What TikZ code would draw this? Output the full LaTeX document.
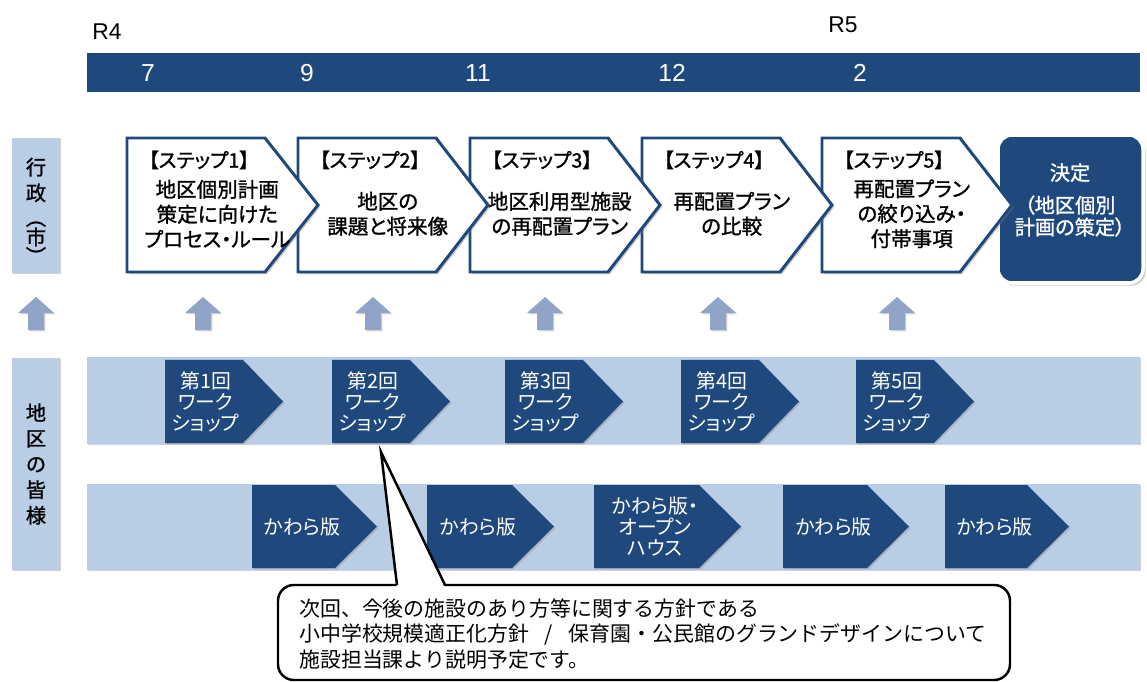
\documentclass[tikz,border=0pt]{standalone}
\usepackage{fontspec}
\newfontfamily\jp[RawFeature=+palt]{Noto Sans CJK JP}
\newfontfamily\jpb[RawFeature=+palt, FakeBold=1.2]{Noto Sans CJK JP}
\newfontfamily\jpm{Noto Sans CJK JP}
\newfontfamily\lat{Liberation Sans}
\usetikzlibrary{shadows}

\definecolor{navy}{RGB}{31,73,125}
\definecolor{paleblue}{RGB}{185,205,229}
\definecolor{arrowgray}{RGB}{143,164,199}

\tikzset{
  softshadow/.style={drop shadow={shadow xshift=.8pt, shadow yshift=-.8pt, opacity=.35}},
  band/.style={fill=paleblue, softshadow},
  sidetxt/.style={font=\jpb\fontsize{11.5}{14.6}\selectfont, align=center, inner sep=0},
  uparrow/.style={fill=arrowgray, softshadow},
  stepbox/.style={fill=white, draw=navy, line width=1.7pt, line join=miter,
    drop shadow={shadow xshift=1.2pt, shadow yshift=-1.2pt, opacity=.4}},
  stepboxtxt/.style={font=\jpb\fontsize{11.7}{14.2}\selectfont, align=center, inner sep=0,
    xshift=-3pt, yshift=-5pt},
  hdrtxt/.style={font=\jpb\fontsize{11.3}{13}\selectfont, inner sep=0},
  wsbox/.style={fill=navy, softshadow},
  wsboxtxt/.style={font=\jp\fontsize{11.3}{11.9}\selectfont, text=white, align=center,
    inner sep=0, xshift=-10.5pt},
  kwbox/.style={fill=navy, softshadow},
  kwboxtxt/.style={font=\jp\fontsize{11.3}{11.9}\selectfont, text=white, align=center,
    inner sep=0, xshift=-7pt},
  decide/.style={fill=navy, draw=white, line width=2pt, rounded corners=8pt,
    drop shadow={shadow xshift=1.5pt, shadow yshift=-1.5pt, opacity=.4}},
  decidetxt/.style={text=white, align=center, inner sep=0,
    font=\jpb\fontsize{11.5}{11.5}\selectfont},
  callout/.style={draw=black, line width=1.4pt, fill=white},
  notetxt/.style={font=\jpm\fontsize{11.9}{14.7}\selectfont, align=left, inner sep=0},
  yeartxt/.style={font=\lat\fontsize{13}{15}\selectfont, inner sep=0},
  monthtxt/.style={font=\lat\fontsize{14}{16}\selectfont, text=white, inner sep=0}
}

% arrow shaped box: style, name, left, top, corner, bottom, tip, text
\newcommand{\chev}[8]{%
  \path[#1] (#3,#4) -- (#5,#4) -- (#7,{(#4+#6)/2}) -- (#5,#6) -- (#3,#6) -- cycle;
  \node[#1txt] (#2) at ({(#3+#7)/2},{(#4+#6)/2}) {#8};}

\begin{document}
\begin{tikzpicture}[x=0.02cm, y=-0.02cm, font=\jp]
\useasboundingbox (0,0) rectangle (1147,682);

% time line
\fill[navy] (87,53) rectangle (1140,92);
\node[yeartxt] (r4) at (107,32) {R4};
\node[yeartxt] (r5) at (843,25) {R5};
\foreach \m/\x in {7/148, 9/307, 11/478, 12/672, 2/860}
  \node[monthtxt] (m\m) at (\x,73) {\m};

% side labels
\path[band] (12,138) rectangle (60,273);
\node[sidetxt] (gov) at (36,180) {行\\政};
\node[sidetxt, rotate=-90] (lpar) at (36,222) {（};
\node[sidetxt] (city) at (36,237) {市};
\node[sidetxt, rotate=-90] (rpar) at (36,252) {）};
\path[band] (12,358) rectangle (60,570);
\node[sidetxt] (ppl) at (36,464) {地\\区\\の\\皆\\様};

% up arrows
\foreach \x in {36,203,373,545,718,897}
  \path[uparrow] ({\x-8},330) -- ({\x-8},313) -- ({\x-18},313) -- (\x,297)
    -- ({\x+18},313) -- ({\x+8},313) -- ({\x+8},330) -- cycle;

% steps, right to left so each tip lies on top
\path[decide] (998,135) rectangle (1143,283);
\node[decidetxt] (fin) at (1070,200) {決定\\[7pt]（地区個別\\[1pt]計画の策定）};
\chev{stepbox}{st5}{822}{138}{960}{272}{1012}{再配置プラン\\の絞り込み・\\付帯事項}
\chev{stepbox}{st4}{642}{138}{780}{272}{832}{再配置プラン\\の比較}
\chev{stepbox}{st3}{470}{138}{608}{272}{660}{地区利用型施設\\の再配置プラン}
\chev{stepbox}{st2}{298}{138}{436}{272}{488}{地区の\\課題と将来像}
\chev{stepbox}{st1}{127}{138}{265}{272}{318}{地区個別計画\\策定に向けた\\プロセス・ルール}
\foreach \n/\x in {1/127, 2/298, 3/470, 4/642, 5/822}
  \node[hdrtxt] (hd\n) at ({\x+72},160) {【ステップ\n】};

% bands
\path[band] (87,357) rectangle (1140,444);
\path[band] (87,484) rectangle (1140,570);

% workshops
\foreach \i/\l in {1/165, 2/332, 3/505, 4/681, 5/856}{
  \chev{wsbox}{ws\i}{\l}{360}{\l+78}{443}{\l+118}{第\i 回\\ワーク\\ショップ}
}

% news letters
\chev{kwbox}{kw1}{252}{485}{335}{568}{377}{かわら版}
\chev{kwbox}{kw2}{427}{485}{512}{568}{554}{かわら版}
\chev{kwbox}{kw3}{594}{485}{699}{568}{741}{かわら版・\\オープン\\ハウス}
\chev{kwbox}{kw4}{783}{485}{867}{568}{909}{かわら版}
\chev{kwbox}{kw5}{945}{485}{1027}{568}{1069}{かわら版}

% note
\coordinate (tip) at (381,452);
\path[callout, rounded corners=9pt] (278,585) rectangle (1010,680);
\fill[white] (397,588) -- (tip) -- (445,588) -- cycle;
\draw[line width=1.4pt] (397,585) -- (tip) -- (445,585);
\node[notetxt, anchor=west] (note) at (299,634)
  {次回、今後の施設のあり方等に関する方針である\\
   小中学校規模適正化方針\hspace{0.75em}/\hspace{0.75em}保育園・公民館のグランドデザインについて\\
   施設担当課より説明予定です。};
\end{tikzpicture}
\end{document}
